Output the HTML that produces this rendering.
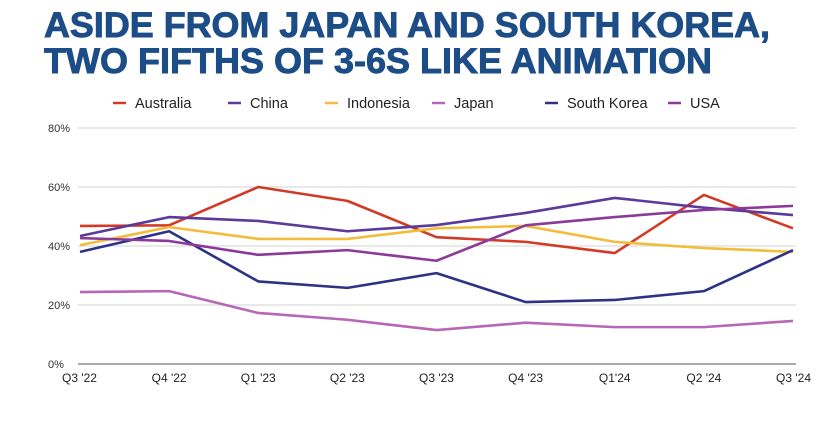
<!DOCTYPE html>
<html><head><meta charset="utf-8"><style>
body{margin:0;background:#fff;width:839px;height:439px;overflow:hidden;font-family:"Liberation Sans",Arial,sans-serif}
</style></head><body>
<svg id="chart" width="839" height="439" viewBox="0 0 839 439" xmlns="http://www.w3.org/2000/svg" font-family="Liberation Sans, Arial, sans-serif">
<text x="44" y="37" font-size="35" font-weight="bold" fill="#1c4d86" stroke="#1c4d86" stroke-width="0.9" textLength="726" lengthAdjust="spacingAndGlyphs">ASIDE FROM JAPAN AND SOUTH KOREA,</text>
<text x="44" y="73" font-size="35" font-weight="bold" fill="#1c4d86" stroke="#1c4d86" stroke-width="0.9" textLength="668" lengthAdjust="spacingAndGlyphs">TWO FIFTHS OF 3-6S LIKE ANIMATION</text>
<g id="grid"></g><g id="legend"></g><g id="series"></g><g id="xlabels"></g>
</svg>
<script>
const categories=["Q3 '22","Q4 '22","Q1 '23","Q2 '23","Q3 '23","Q4 '23","Q1'24","Q2 '24","Q3 '24"];
const seriesNames=["Australia","China","Indonesia","Japan","South Korea","USA"];
const seriesColors=["#d33a26","#5a3a9a","#f2bd3c","#b866b6","#2e3284","#8c3a9a"];
const australia=[46.8,47,60,55.3,43,41.4,37.6,57.3,46];
const china=[43.4,49.8,48.5,45,47.1,51.2,56.3,53,50.5];
const indonesia=[40.3,46.4,42.4,42.4,46,46.8,41.4,39.3,38];
const japan=[24.4,24.7,17.3,15,11.5,14,12.5,12.5,14.6];
const southKorea=[38,45,28,25.8,30.8,21,21.7,24.7,38.6];
const usa=[42.7,41.7,37,38.6,35,47,49.8,52.2,53.6];
const yTicks=[0,20,40,60,80];
const yTickLabels=["0%","20%","40%","60%","80%"];
const allSeries=[australia,china,indonesia,japan,southKorea,usa];
const NS="http://www.w3.org/2000/svg";
const x0=80,x1=793,yBase=364,yTop=128;
const xs=i=>x0+i*(x1-x0)/(categories.length-1);
const ys=v=>yBase-(v/80)*(yBase-yTop);
function mk(t,a,p){const e=document.createElementNS(NS,t);for(const k in a)e.setAttribute(k,a[k]);p.appendChild(e);return e;}
const grid=document.getElementById('grid');
yTicks.forEach((t,i)=>{
  const l=mk('line',{x1:78,x2:x1+3,y1:ys(t),y2:ys(t),stroke:t===0?'#777':'#e2e2e2','stroke-width':t===0?1.2:1.5},grid);
  
  
  const tx=mk('text',{x:48,y:ys(t)+4,'font-size':11,fill:'#333'},grid);
  tx.textContent=yTickLabels[i];
  
  
});
const xl=document.getElementById('xlabels');
categories.forEach((c,i)=>{
  const anchor=i===0?'start':(i===categories.length-1?'end':'middle');
  const xx=i===0?62:(i===categories.length-1?811:xs(i));
  const t=mk('text',{x:xx,y:382,'font-size':12,fill:'#222','text-anchor':anchor},xl);
  t.textContent=c;
  
  
});
const sg=document.getElementById('series');
allSeries.forEach((s,k)=>{
  const p=mk('polyline',{points:s.map((v,i)=>xs(i)+','+ys(v)).join(' '),fill:'none',stroke:seriesColors[k],'stroke-width':2.6,'stroke-linejoin':'round'},sg);
  
  
});
const lg=document.getElementById('legend');
const legX=[113,228,325,432,545,668];
seriesNames.forEach((n,k)=>{
  const g=mk('g',{},lg);
  
  
  mk('line',{x1:legX[k],x2:legX[k]+13,y1:103,y2:103,stroke:seriesColors[k],'stroke-width':2.5},g);
  const t=mk('text',{x:legX[k]+22,y:108,'font-size':14.5,fill:'#222'},g);
  t.textContent=n;
});
</script>
</body></html>
